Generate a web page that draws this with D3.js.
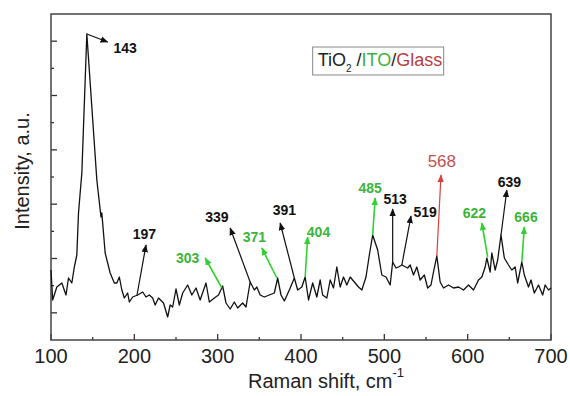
<!DOCTYPE html>
<html lang="en">
<head>
<meta charset="UTF-8" />
<title>Raman spectrum – TiO2/ITO/Glass</title>
<script src="https://d3js.org/d3.v7.min.js"></script>
<style>
  body { margin: 0; background: #fff; }
  svg { display: block; font-family: Arial, 'Liberation Sans', sans-serif; }
</style>
</head>
<body>
<svg width="570" height="396"></svg>
<script>
// Raman shift (cm-1) and intensity (a.u.)
const shift = [100,102,107,113,118,121,125,128,131,133,137,143,155,160,161,165,171,176,179,182,185,188,192,194,198,
  204,210,214,218,222,225,229,235,240,243,246,250,254,258,264,269,274,279,286,290,296,301,306,310,315,320,324,330,334,
  339,344,347,351,356,362,368,372,376,380,386,392,396,401,405,409,414,419,423,426,431,435,439,443,447,451,455,459,465,
  469,473,478,482,486,492,497,502,507,510,514,517,521,528,531,535,539,543,548,552,556,559,563,567,571,577,583,589,595,
  601,607,613,617,621,623,627,629,633,636,640,644,649,653,657,660,665,668,673,676,680,685,690,693,697,700];
const intensity = [70,40,53,57,45,62,57,73,85,127,167,306,160,123,127,87,67,57,57,63,50,42,47,38,43,
  45,48,43,45,42,35,42,37,23,35,33,51,35,47,55,45,52,40,57,38,42,45,54,37,31,38,32,37,33,
  58,50,53,45,43,45,47,62,45,39,50,62,50,53,63,40,57,43,60,45,42,60,52,73,53,63,55,63,57,
  53,50,63,85,105,90,65,63,55,78,72,73,75,72,75,65,73,60,65,52,55,68,84,58,52,55,52,53,50,
  55,50,60,63,73,82,68,87,70,80,105,82,75,70,73,57,78,65,53,60,47,55,45,55,50,52];

const xTicks = [100, 200, 300, 400, 500, 600, 700];
const yMax = 326;

// peak annotations: label, layer, arrow from -> to, label position (data units)
const peaks = [
  { label: "143", layer: "tio2",  from: [143, 306], to: [168, 298], at: [189, 287] },
  { label: "197", layer: "tio2",  from: [203, 44],  to: [214, 95],  at: [212, 101] },
  { label: "303", layer: "ito",   from: [305, 52],  to: [285, 82],  at: [264, 77] },
  { label: "339", layer: "tio2",  from: [339, 58],  to: [315, 112], at: [299, 118] },
  { label: "371", layer: "ito",   from: [371, 62],  to: [353, 92],  at: [344, 98] },
  { label: "391", layer: "tio2",  from: [392, 62],  to: [375, 117], at: [380, 125] },
  { label: "404", layer: "ito",   from: [405, 63],  to: [408, 103], at: [421, 103] },
  { label: "485", layer: "ito",   from: [486, 105], to: [489, 142], at: [483, 147] },
  { label: "513", layer: "tio2",  from: [510, 78],  to: [510, 131], at: [513, 136] },
  { label: "519", layer: "tio2",  from: [521, 75],  to: [532, 124], at: [549, 123] },
  { label: "568", layer: "glass", from: [563, 84],  to: [568, 165], at: [569, 173] },
  { label: "622", layer: "ito",   from: [624, 83],  to: [617, 117], at: [608, 122] },
  { label: "639", layer: "tio2",  from: [640, 105], to: [647, 150], at: [650, 153] },
  { label: "666", layer: "ito",   from: [665, 78],  to: [668, 113], at: [670, 118] }
];

const layerColor = { tio2: "#111", ito: "#2fd22f", glass: "#d9403f" };
const labelColor = { tio2: "#111", ito: "#3cb43c", glass: "#c0504d" };

const svg = d3.select("svg");
const margin = { top: 14, right: 19, bottom: 56, left: 51 };
const width = +svg.attr("width") - margin.left - margin.right;
const height = +svg.attr("height") - margin.top - margin.bottom;

const x = d3.scaleLinear().domain([100, 700]).range([0, width]);
const y = d3.scaleLinear().domain([0, yMax]).range([height, 0]);

const g = svg.append("g").attr("transform", `translate(${margin.left},${margin.top})`);

// arrow heads
const defs = svg.append("defs");
Object.keys(layerColor).forEach(k => {
  defs.append("marker")
    .attr("id", "head-" + k)
    .attr("markerUnits", "userSpaceOnUse")
    .attr("viewBox", "0 0 10 8")
    .attr("refX", 9).attr("refY", 4)
    .attr("markerWidth", 8).attr("markerHeight", 7)
    .attr("orient", "auto")
    .append("path")
    .attr("d", "M0,0 L10,4 L0,8 Z")
    .attr("fill", layerColor[k]);
});

// bottom ticks (inward), majors labelled
const xMinor = d3.range(150, 700, 100);
g.selectAll(".xmaj").data(xTicks).enter().append("line")
  .attr("x1", d => x(d)).attr("x2", d => x(d))
  .attr("y1", height).attr("y2", height - 6)
  .attr("stroke", "#333").attr("stroke-width", 1.3);
g.selectAll(".xmin").data(xMinor).enter().append("line")
  .attr("x1", d => x(d)).attr("x2", d => x(d))
  .attr("y1", height).attr("y2", height - 3)
  .attr("stroke", "#333").attr("stroke-width", 1.3);
g.selectAll(".xlab").data(xTicks).enter().append("text")
  .attr("x", d => x(d)).attr("y", height + 23)
  .attr("text-anchor", "middle")
  .attr("font-size", 20).attr("fill", "#222")
  .text(d => d);

// left ticks (no labels)
const yTicks = d3.range(1, 12).map(i => i * yMax / 12);
g.selectAll(".ytk").data(yTicks).enter().append("line")
  .attr("x1", 0).attr("x2", (d, i) => i % 2 === 0 ? 6 : 3)
  .attr("y1", d => y(d)).attr("y2", d => y(d))
  .attr("stroke", "#333").attr("stroke-width", 1.3);

// frame
g.append("rect")
  .attr("width", width).attr("height", height)
  .attr("fill", "none").attr("stroke", "#444").attr("stroke-width", 1.5);

// spectrum
const line = d3.line().x((d, i) => x(shift[i])).y(d => y(d));
g.append("path")
  .datum(intensity)
  .attr("d", line)
  .attr("fill", "none")
  .attr("stroke", "#111")
  .attr("stroke-width", 1.3)
  .attr("stroke-linejoin", "round");

// peak arrows and labels
g.selectAll(".arrow").data(peaks).enter().append("line")
  .attr("x1", d => x(d.from[0])).attr("y1", d => y(d.from[1]))
  .attr("x2", d => x(d.to[0])).attr("y2", d => y(d.to[1]))
  .attr("stroke", d => layerColor[d.layer])
  .attr("stroke-width", d => d.layer === "ito" ? 1.6 : 1.2)
  .attr("marker-end", d => `url(#head-${d.layer})`);

g.selectAll(".plabel").data(peaks).enter().append("text")
  .attr("x", d => x(d.at[0])).attr("y", d => y(d.at[1]))
  .attr("text-anchor", "middle")
  .attr("font-size", d => d.layer === "glass" ? 17 : 14)
  .attr("font-weight", d => d.layer === "glass" ? "normal" : "bold")
  .attr("fill", d => labelColor[d.layer])
  .text(d => d.label);

// legend box
const lg = g.append("g").attr("transform", `translate(${x(414)},${33})`);
lg.append("rect")
  .attr("width", 131).attr("height", 28)
  .attr("fill", "#fff").attr("stroke", "#888").attr("stroke-width", 1);
const lt = lg.append("text").attr("x", 5).attr("y", 19).attr("font-size", 18).attr("fill", "#222");
lt.append("tspan").text("TiO");
lt.append("tspan").attr("font-size", 10).attr("dy", 6).text("2");
lt.append("tspan").attr("dy", -6).text(" /");
lt.append("tspan").attr("fill", "#3cb43c").text("ITO");
lt.append("tspan").text("/");
lt.append("tspan").attr("fill", "#b5403f").text("Glass");

// axis titles
const xt = svg.append("text")
  .attr("x", 248).attr("y", 388)
  .attr("font-size", 20).attr("fill", "#222");
xt.append("tspan").text("Raman shift, cm");
xt.append("tspan").attr("font-size", 13).attr("dy", -11).text("-1");

svg.append("text")
  .attr("transform", "translate(29,171) rotate(-90)")
  .attr("text-anchor", "middle")
  .attr("font-size", 20).attr("fill", "#222")
  .text("Intensity, a.u.");
</script>
</body>
</html>
